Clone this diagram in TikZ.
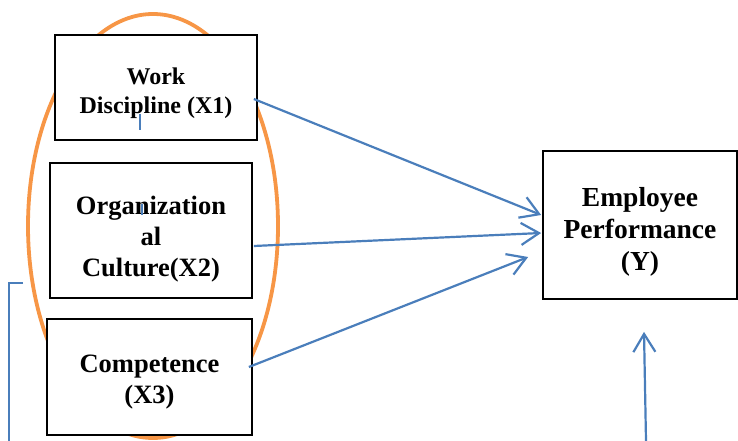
\documentclass[tikz,border=0pt]{standalone}
\usepackage{fontspec}
\setmainfont{Liberation Serif}
\usetikzlibrary{arrows.meta}
\usetikzlibrary{positioning}

\definecolor{linkblue}{HTML}{4A7EBB}
\definecolor{ringorange}{HTML}{F79646}
% strut that pushes the text of a box down
\newcommand{\lowered}[1]{\rule{0pt}{#1}}

\begin{document}
\begin{tikzpicture}[x=1pt, y=-1pt]
            \tikzset{var/.style={draw, rectangle, line width=1.7pt, fill=white, align=center},
                    >={Straight Barb[length=18pt,width=22pt]},
                    every edge/.style={draw=linkblue, line width=2.2pt}}
            \useasboundingbox (0, 0) rectangle (738, 441);
            \draw[ringorange, line width=3.8pt] (153, 226) ellipse [x radius=125pt, y radius=212pt];
            \node[var, minimum width=202pt, minimum height=105pt, font=\bfseries\fontsize{24}{29}\selectfont] (1) at (156, 87.5) {\lowered{28pt}Work\\Discipline (X1)};
            \node[var, minimum width=202pt, minimum height=135pt, font=\bfseries\fontsize{26.5}{31}\selectfont] (2) at (151, 230.5) {\lowered{35pt}Organization\\al\\Culture(X2)};
            \node[var, minimum width=205pt, minimum height=116pt, font=\bfseries\fontsize{26.5}{31}\selectfont] (3) at (149.5, 377) {\lowered{27pt}Competence\\(X3)};
            \node[var, minimum width=194pt, minimum height=148pt, font=\bfseries\fontsize{27.5}{32}\selectfont] (4) at (640, 225) {\lowered{33pt}Employee\\Performance\\(Y)};
            \coordinate (b) at (646, 441);
            \coordinate (c) at (23, 283);
            \coordinate (d) at (9, 441);
            \path [->] ([xshift=-4pt,yshift=-11.5pt]1.east) edge ([xshift=-1pt,yshift=10pt]4.west);
            \path [->] ([xshift=1pt,yshift=-15.5pt]2.east) edge ([xshift=-1pt,yshift=-8pt]4.west);
            \path [->] ([xshift=-4pt,yshift=10pt]3.east) edge ([xshift=-14pt,yshift=-32pt]4.west);
            \path [->] (b) edge ([xshift=4pt,yshift=-32pt]4.south);
            \draw[linkblue, line width=1.4pt] (c) -| (d);
            % stray marks inside the boxes
            \draw[linkblue, line width=1.1pt] (140, 114) -- (140, 130);
            \draw[linkblue, line width=1.1pt] (142, 204) -- (142, 215);
        \end{tikzpicture}
\end{document}
